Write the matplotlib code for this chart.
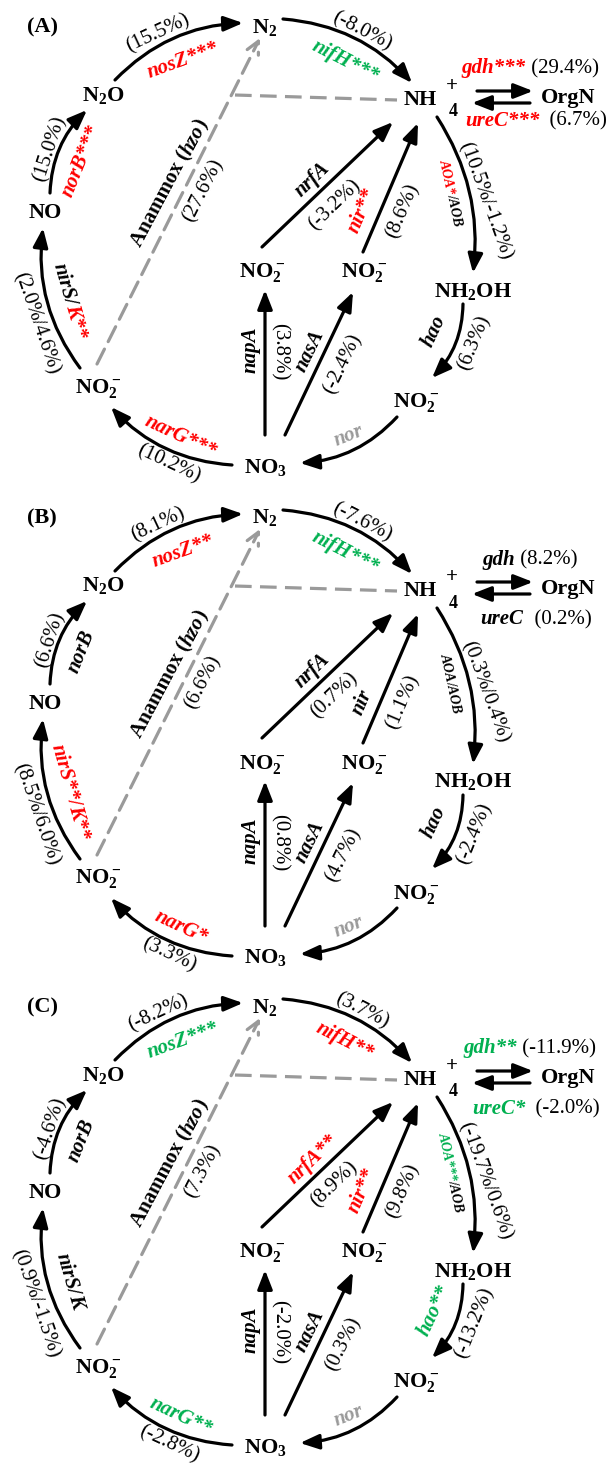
import numpy as np
import matplotlib
matplotlib.use('Agg')
import matplotlib.pyplot as plt
from matplotlib.patches import FancyArrowPatch

plt.rcParams['font.family'] = ['Liberation Serif', 'DejaVu Serif']
plt.rcParams['mathtext.fontset'] = 'custom'
plt.rcParams['mathtext.rm'] = 'Liberation Serif:bold'
plt.rcParams['mathtext.default'] = 'rm'
plt.rcParams['lines.scale_dashes'] = False

panel_labels = ['(A)', '(B)', '(C)']
panel_y = [0, 491, 980]

# percent change per panel (A, B, C) and significance stars
nosZ_val = [15.5, 8.1, -8.2]
nosZ_sig = ['***', '**', '***']
nifH_val = [-8.0, -7.6, 3.7]
nifH_sig = ['***', '***', '**']
norB_val = [15.0, 6.6, -4.6]
norB_sig = ['***', '', '']
nirS_val = [2.0, 8.5, 0.9]
nirS_sig = ['', '**', '']
nirK_val = [4.6, 6.0, -1.5]
nirK_sig = ['**', '**', '']
narG_val = [10.2, 3.3, -2.8]
narG_sig = ['***', '*', '**']
hao_val = [6.3, -2.4, -13.2]
hao_sig = ['', '', '**']
AOA_val = [10.5, 0.3, -19.7]
AOA_sig = ['*', '', '***']
AOB_val = [-1.2, 0.4, 0.6]
AOB_sig = ['', '', '']
nrfA_val = [-3.2, 0.7, 8.9]
nrfA_sig = ['', '', '**']
nir_val = [8.6, 1.1, 9.8]
nir_sig = ['**', '', '**']
napA_val = [3.8, 0.8, -2.0]
napA_sig = ['', '', '']
nasA_val = [-2.4, 4.7, 0.3]
nasA_sig = ['', '', '']
hzo_val = [27.6, 6.6, 7.3]
gdh_val = [29.4, 8.2, -11.9]
gdh_sig = ['***', '', '**']
ureC_val = [6.7, 0.2, -2.0]
ureC_sig = ['***', '', '*']

RED = '#ff0000'
GREEN = '#00b050'
GRAY = '#9a9a9a'
BLACK = 'black'


def col(v, sig):
    if not sig:
        return BLACK
    return RED if v > 0 else GREEN


def fmt(v):
    return f'({v:.1f}%)'


fig = plt.figure(figsize=(6.08, 14.65), dpi=100)
ax = fig.add_axes([0, 0, 1, 1])
ax.set_xlim(0, 608)
ax.set_ylim(1465, 0)
ax.axis('off')
R = fig.canvas.get_renderer()


def rich(x, y, parts, rot=0, size=15):
    # parts: (text, colour, style, weight), laid end to end along rot
    ws = []
    for s, c, st, wt in parts:
        t = ax.text(0, 0, s, fontsize=size, style=st, weight=wt)
        ws.append(t.get_window_extent(R).width)
        t.remove()
    th = np.radians(rot)
    ux, uy = np.cos(th), -np.sin(th)
    x0 = x - ux * sum(ws) / 2
    y0 = y - uy * sum(ws) / 2
    acc = 0
    for (s, c, st, wt), w in zip(parts, ws):
        ax.text(x0 + ux * acc, y0 + uy * acc, s, color=c, fontsize=size,
                style=st, weight=wt, rotation=rot, rotation_mode='anchor',
                ha='left', va='center_baseline')
        acc += w


for k in range(3):
    oy = panel_y[k]

    def node(x, y, s, size=16):
        ax.text(x, y + oy, s, fontsize=size, weight='bold',
                ha='center', va='center')

    def arrow(p, q, rad=0.0, color=BLACK, ls='-', style=None):
        if style is None:
            style = '-|>,head_length=1.15,head_width=0.45'
        a = FancyArrowPatch((p[0], p[1] + oy), (q[0], q[1] + oy),
                            connectionstyle=f'arc3,rad={rad}',
                            arrowstyle=style, mutation_scale=10, lw=2.3,
                            color=color, linestyle=ls, shrinkA=0, shrinkB=0)
        ax.add_patch(a)

    def gene(x, y, s, c, rot, size=15):
        rich(x, y + oy, [(s, c, 'italic', 'bold')], rot, size)

    def pct(x, y, s, rot):
        ax.text(x, y + oy, s, fontsize=15, rotation=rot,
                rotation_mode='anchor', ha='center', va='center_baseline')

    ax.text(42, 27 + oy, panel_labels[k], fontsize=16, weight='bold',
            ha='center', va='center')

    # nodes
    node(265, 27, 'N$_2$')
    node(103, 95, 'N$_2$O')
    node(45, 213, 'NO')
    node(98, 388, 'NO$_2^-$')
    node(265, 467, 'NO$_3$')
    node(416, 403, 'NO$_2^-$')
    node(473, 291, 'NH$_2$OH')
    node(262, 273, 'NO$_2^-$')
    node(364, 273, 'NO$_2^-$')
    node(420, 100, 'NH')
    ax.text(452, 86 + oy, '+', fontsize=15, weight='bold', ha='center', va='center')
    ax.text(453, 112 + oy, '4', fontsize=13, weight='bold', ha='center', va='center')
    node(568, 98, 'OrgN')

    # outer cycle
    arrow((115, 80), (243, 23), -0.2)
    pct(157, 31, fmt(nosZ_val[k]), 25)
    gene(182, 58, 'nosZ' + nosZ_sig[k], col(nosZ_val[k], nosZ_sig[k]), 20)

    arrow((283, 19), (412, 83), -0.2)
    pct(363, 29, fmt(nifH_val[k]), -27)
    gene(346, 59, 'nifH' + nifH_sig[k], col(nifH_val[k], nifH_sig[k]), -27)

    arrow((50, 193), (87, 110), -0.2)
    pct(48, 148, fmt(norB_val[k]), 72)
    gene(79, 160, 'norB' + norB_sig[k], col(norB_val[k], norB_sig[k]), 68)

    arrow((80, 368), (43, 228), -0.2)
    rich(72, 300 + oy,
         [('nirS' + nirS_sig[k] + '/', col(nirS_val[k], nirS_sig[k]), 'italic', 'bold'),
          ('K' + nirK_sig[k], col(nirK_val[k], nirK_sig[k]), 'italic', 'bold')], -74)
    pct(38, 323, f'({nirS_val[k]:.1f}%/{nirK_val[k]:.1f}%)', -71)

    arrow((232, 465), (111, 407), -0.2)
    gene(182, 434, 'narG' + narG_sig[k], col(narG_val[k], narG_sig[k]), -25)
    pct(170, 462, fmt(narG_val[k]), -25)

    arrow((397, 417), (300, 463), -0.2)
    gene(348, 433, 'nor', GRAY, 22)

    arrow((463, 304), (432, 378), -0.2)
    gene(432, 330, 'hao' + hao_sig[k], col(hao_val[k], hao_sig[k]), 65)
    pct(472, 342, fmt(hao_val[k]), 68)

    arrow((437, 117), (473, 273), -0.18)
    rich(452, 192 + oy,
         [('AOA' + AOA_sig[k], col(AOA_val[k], AOA_sig[k]), 'italic', 'bold'),
          ('/AOB' + AOB_sig[k], col(AOB_val[k], AOB_sig[k]), 'italic', 'bold')],
         -78, size=10)
    pct(487, 200, f'({AOA_val[k]:.1f}%/{AOB_val[k]:.1f}%)', -70)

    # inner straight arrows
    arrow((262, 247), (393, 122))
    gene(311, 178, 'nrfA' + nrfA_sig[k], col(nrfA_val[k], nrfA_sig[k]), 44)
    pct(333, 203, fmt(nrfA_val[k]), 44)

    arrow((363, 252), (418, 123))
    gene(360, 210, 'nir' + nir_sig[k], col(nir_val[k], nir_sig[k]), 67)
    pct(401, 210, fmt(nir_val[k]), 67)

    arrow((265, 435), (265, 290))
    gene(248, 350, 'napA' + napA_sig[k], col(napA_val[k], napA_sig[k]), 90)
    pct(282, 352, fmt(napA_val[k]), -90)

    arrow((285, 435), (353, 292))
    gene(308, 350, 'nasA' + nasA_sig[k], col(nasA_val[k], nasA_sig[k]), 64)
    pct(341, 363, fmt(nasA_val[k]), 64)

    # anammox
    arrow((97, 364), (260, 38), color=GRAY, ls=(0, (12, 6)),
          style='->,head_length=0.9,head_width=0.45')
    ax.plot([235, 397], [95 + oy, 100 + oy], color=GRAY, lw=2.3,
            dashes=(12, 6))
    rich(168, 182 + oy, [('Anammox (', BLACK, 'normal', 'bold'),
                         ('hzo', BLACK, 'italic', 'bold'),
                         (')', BLACK, 'normal', 'bold')], 62)
    pct(201, 190, fmt(hzo_val[k]), 63)

    # NH4+ <-> OrgN
    arrow((477, 91), (533, 91))
    arrow((530, 103), (472, 103))
    rich(530, 66 + oy, [('gdh' + gdh_sig[k], col(gdh_val[k], gdh_sig[k]), 'italic', 'bold'),
                        (' ' + fmt(gdh_val[k]), BLACK, 'normal', 'normal')])
    ure_y = 118 if k == 0 else 126
    rich(536, ure_y + oy, [('ureC' + ureC_sig[k], col(ureC_val[k], ureC_sig[k]), 'italic', 'bold'),
                           ('  ' + fmt(ureC_val[k]), BLACK, 'normal', 'normal')])

fig.savefig('out.png', dpi=100)
